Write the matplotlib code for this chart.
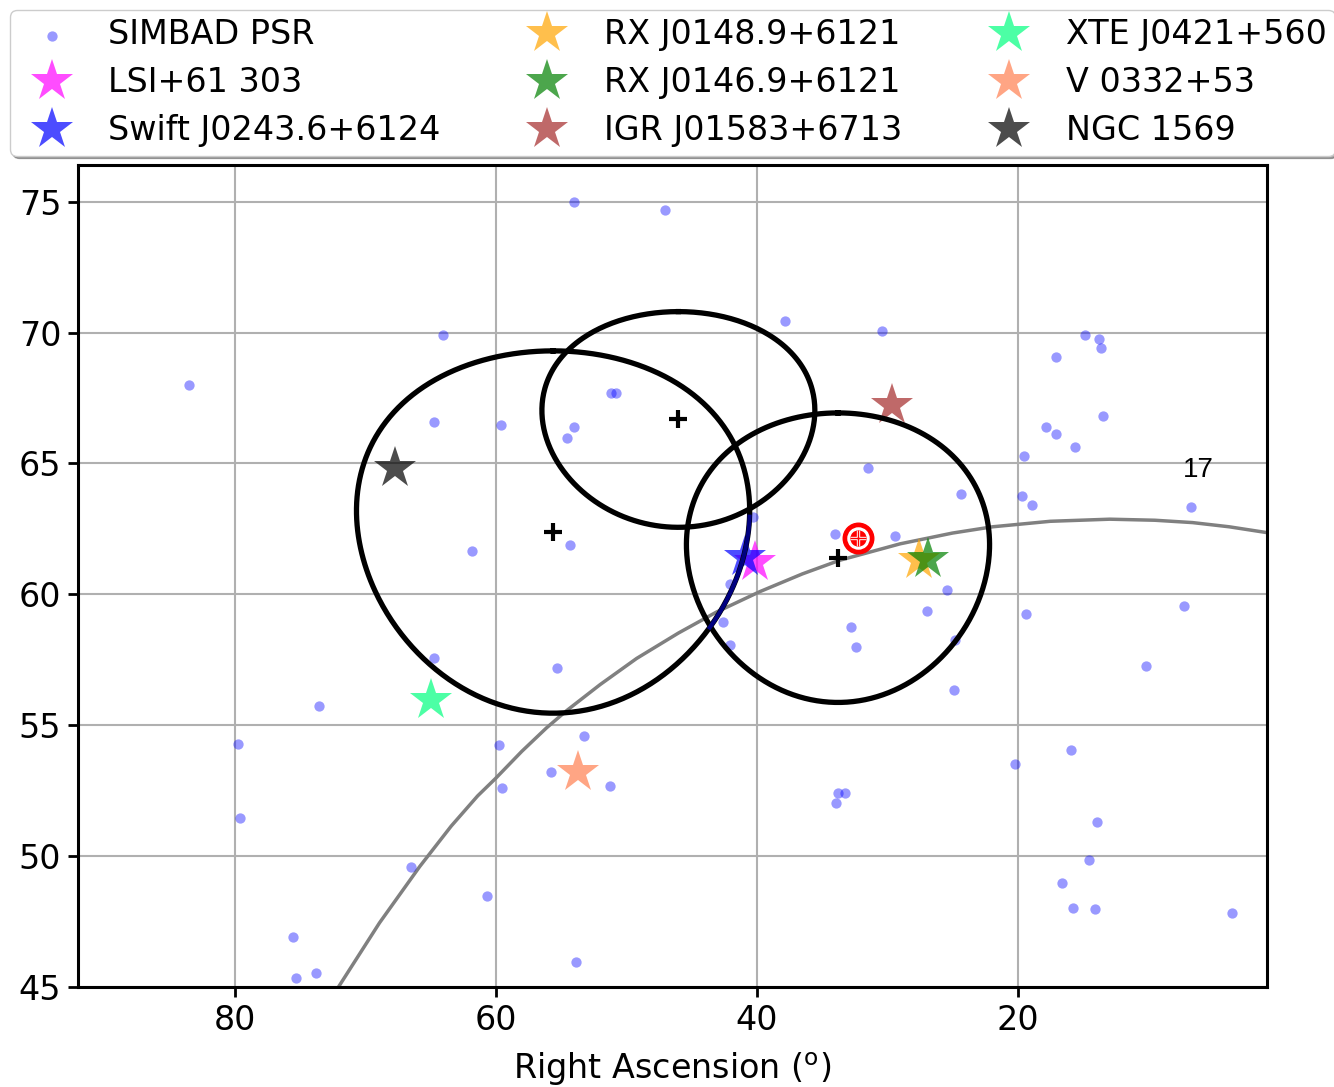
import numpy as np
import matplotlib.pyplot as plt

plt.rcParams['font.size'] = 24

# SIMBAD pulsars (RA, Dec in degrees)
psr_ra = [83.5, 64.0, 64.75, 61.8, 54.0, 47.0, 37.8, 51.2, 50.8, 59.6, 54.0, 54.5,
          54.33, 34.0, 31.5, 30.4, 14.87, 13.77, 13.62, 17.09, 13.46, 17.8, 17.09,
          15.63, 19.54, 24.31, 19.67, 18.93, 6.69, 29.43, 25.42, 26.92, 32.74,
          42.58, 40.3, 42.07, 24.83, 24.88, 19.39, 7.26, 10.14, 15.89, 20.23,
          13.92, 14.54, 16.6, 15.73, 14.08, 3.55, 55.3, 42.07, 32.41, 53.26,
          59.77, 55.79, 59.49, 51.24, 33.75, 33.2, 33.95, 60.67, 53.87, 64.7,
          73.54, 79.72, 79.62, 66.49, 75.5, 73.77, 75.3]
psr_dec = [68.0, 69.9, 66.6, 61.64, 75.0, 74.7, 70.43, 67.7, 67.7, 66.45, 66.39, 65.98,
           61.87, 62.3, 64.84, 70.05, 69.91, 69.76, 69.42, 69.08, 66.83, 66.39, 66.13,
           65.61, 65.28, 63.82, 63.74, 63.42, 63.33, 62.21, 60.15, 59.36, 58.75,
           58.94, 62.95, 60.41, 58.24, 56.36, 59.24, 59.57, 57.28, 54.05, 53.5,
           51.31, 49.87, 48.96, 48.03, 47.97, 47.81, 57.19, 58.05, 57.99, 54.6,
           54.26, 53.23, 52.62, 52.67, 52.4, 52.4, 52.03, 48.47, 45.97, 57.55,
           55.73, 54.27, 51.44, 49.59, 46.92, 45.52, 45.33]

# named sources
src_names = ['LSI+61 303', 'Swift J0243.6+6124', 'RX J0148.9+6121', 'RX J0146.9+6121',
             'IGR J01583+6713', 'XTE J0421+560', 'V 0332+53', 'NGC 1569']
src_ra = [40.13, 40.92, 27.6, 26.9, 29.6, 64.95, 53.7, 67.75]
src_dec = [61.23, 61.43, 61.3, 61.35, 67.25, 55.95, 53.2, 64.83]
src_colors = ['magenta', 'blue', 'orange', 'green', 'brown', 'springgreen', 'coral', 'black']

# fields of view (centre and angular radius, degrees)
fov_ra = [55.6, 46.0, 33.77]
fov_dec = [62.38, 66.68, 61.40]
fov_rad = [6.92, 4.12, 5.53]

# galactic plane
gal_ra = [71.98, 68.9, 65.82, 63.4, 61.38, 60.0, 58.0, 56.1, 54.58, 52.0, 49.2, 46.0,
          43.09, 39.77, 36.5, 33.64, 29.0, 25.0, 21.92, 17.5, 12.95, 9.5, 6.6, 3.8, 1.07]
gal_dec = [45.05, 47.45, 49.6, 51.15, 52.3, 52.97, 54.0, 54.9, 55.55, 56.55, 57.55, 58.52,
           59.32, 60.1, 60.78, 61.3, 61.93, 62.34, 62.58, 62.79, 62.87, 62.83, 62.74,
           62.58, 62.37]

earth_ra, earth_dec = 32.26, 62.14


def sky_circle(ra0, dec0, r, n=400):
    t = np.linspace(0, 2 * np.pi, n)
    d0, rr = np.radians(dec0), np.radians(r)
    dec = np.arcsin(np.sin(d0) * np.cos(rr) + np.cos(d0) * np.sin(rr) * np.cos(t))
    dra = np.arctan2(np.sin(t) * np.sin(rr) * np.cos(d0),
                     np.cos(rr) - np.sin(d0) * np.sin(dec))
    return ra0 + np.degrees(dra), np.degrees(dec)


fig = plt.figure(figsize=(13.34, 10.87), dpi=100)
ax = fig.add_axes([78 / 1334, 1 - 987 / 1087, (1267 - 78) / 1334, (987 - 165) / 1087])

ax.scatter(psr_ra, psr_dec, s=55, color='blue', alpha=0.4, lw=0, label='SIMBAD PSR', zorder=3)
for name, ra, dec, c in zip(src_names, src_ra, src_dec, src_colors):
    ax.plot(ra, dec, '*', color=c, alpha=0.7, ms=32, mew=0, label=name, zorder=4)

ax.plot(gal_ra, gal_dec, color='gray', lw=2.5, zorder=2)

for i, (ra, dec, r) in enumerate(zip(fov_ra, fov_dec, fov_rad)):
    cx, cy = sky_circle(ra, dec, r)
    ax.plot(cx, cy, color='black', lw=3.8, zorder=5)
    ax.plot(ra, dec, '+', color='black', ms=13, mew=3, zorder=5)
    if i == 0:
        sel = (cx < 43.6) & (cy > 58.3) & (cy < 63.0)
        ax.plot(cx[sel], cy[sel], color='navy', lw=3, zorder=6)

ax.plot(earth_ra, earth_dec, 'o', ms=22, color='red', mec='red', zorder=7)
ax.plot(earth_ra, earth_dec, 'o', ms=14, mfc='none', mec='white', mew=2.2, zorder=8)
ax.plot(earth_ra, earth_dec, '+', ms=12, color='white', mew=2.4, zorder=8)
ax.plot(earth_ra, earth_dec, '+', ms=12, color='red', mew=1.0, zorder=9)

ax.text(7.36, 64.47, '17', fontsize=20, family='Liberation Sans', va='baseline', ha='left')

ax.set_xlim(92, 0.9)
ax.set_ylim(45, 76.4)
ax.set_xticks([80, 60, 40, 20])
ax.set_yticks([45, 50, 55, 60, 65, 70, 75])
ax.grid(True, color='#b0b0b0', lw=1.5)
ax.set_axisbelow(True)
for s in ax.spines.values():
    s.set_linewidth(2.2)
ax.tick_params(length=7, width=2, pad=5)
ax.set_xlabel(r'Right Ascension (${}^{\rm o}$)', labelpad=10)

fig.legend(loc='upper left', bbox_to_anchor=(10 / 1334, 1 - 10 / 1087), ncol=3,
           shadow=True, fancybox=True, framealpha=1, handletextpad=0.7,
           columnspacing=2.2, labelspacing=0.45, borderpad=0.25, borderaxespad=0)

fig.savefig('out.png', dpi=100)
